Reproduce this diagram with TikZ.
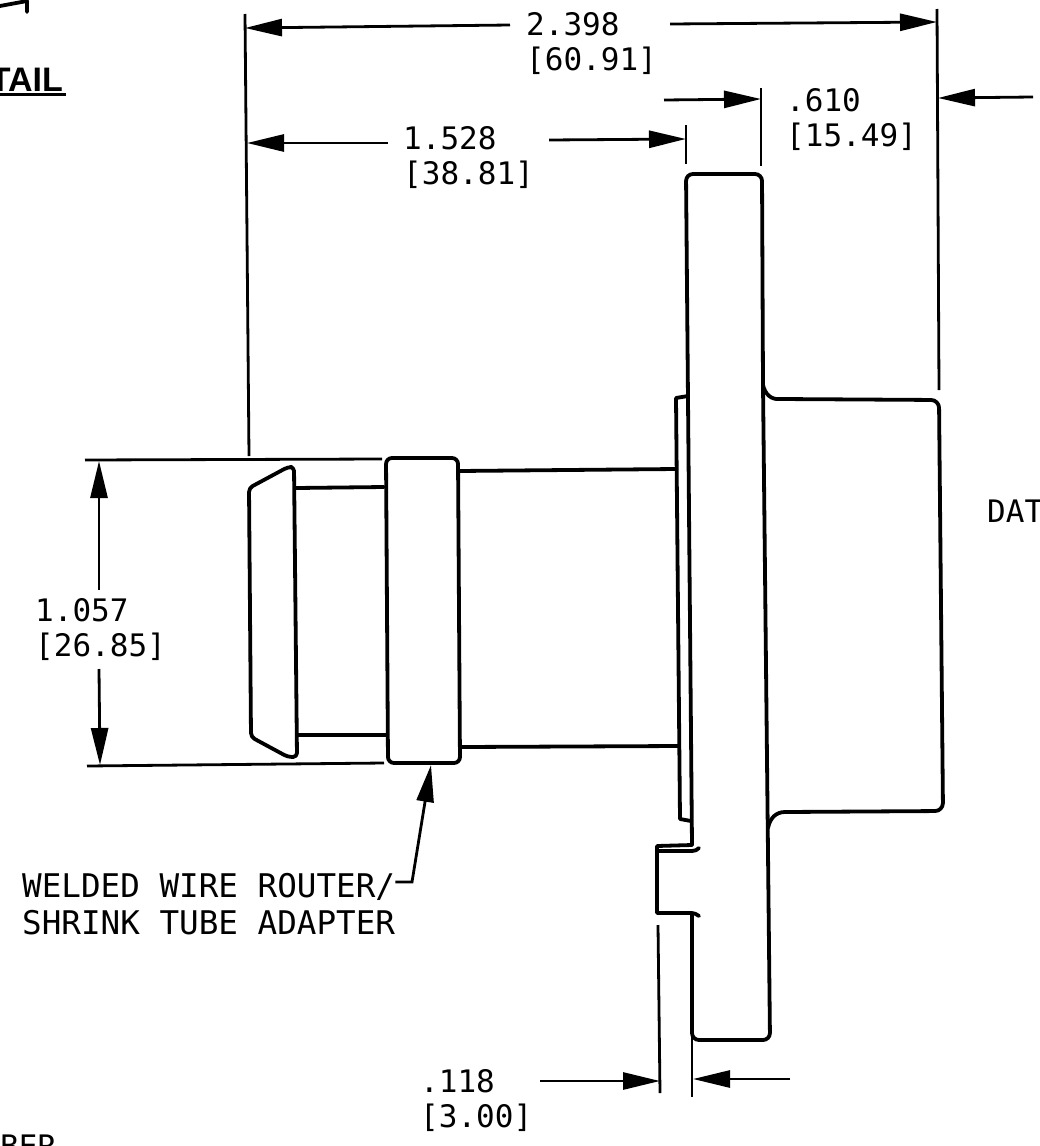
\documentclass[tikz,border=0pt]{standalone}
\usepackage{fontspec}
\usepackage{tikz}
\usetikzlibrary{arrows.meta}
\setmainfont{Liberation Sans}
\newfontfamily\cadfont{DejaVu Sans Mono}

\tikzset{
  part/.style={line width=3.8pt, line cap=round, line join=round},
  extline/.style={line width=2.8pt},
  dimline/.style={line width=2.8pt, ->},
  dimtext/.style={inner sep=0pt, anchor=north west, align=left, font=\cadfont\fontsize{31}{35.5}\selectfont},
  notetext/.style={inner sep=0pt, anchor=north west, align=left, font=\cadfont\fontsize{32.6}{37}\selectfont},
}

\begin{document}
\begin{tikzpicture}[x=1pt, y=-1pt, >={Triangle[length=37pt, width=17pt]}]
\useasboundingbox (0,0) rectangle (1039,1146);

% Cotas
\node[dimtext] (d2398) at (526,12) {2.398\\{[60.91]}};
\node[dimtext] (d1528) at (403,126) {1.528\\{[38.81]}};
\node[dimtext] (d610) at (786,88) {.610\\{[15.49]}};
\node[dimtext] (d1057) at (35,598) {1.057\\{[26.85]}};
\node[dimtext] (d118) at (420,1069) {.118\\{[3.00]}};
\node[notetext] (router) at (22,873) {WELDED WIRE ROUTER/\\SHRINK TUBE ADAPTER};

% Lineas de extension
\draw[extline] (245,14) -- (249,456);
\draw[extline] (937,9) -- (939,390);
\draw[extline] (686,125) -- (686,164);
\draw[extline] (761,88) -- (761,166);
\draw[extline] (85,460) -- (382,459);
\draw[extline] (87,766) -- (384,763);
\draw[extline] (658,925) -- (660,1093);
\draw[extline] (692,913) -- (692,1097);

% Extremos de las flechas
\coordinate (topL) at (245,28);
\coordinate (topR) at (937,22);
\coordinate (midL) at (247,143);
\coordinate (midR) at (686,139);
\coordinate (sideL) at (761,99);
\coordinate (sideR) at (938,98);
\coordinate (sideE) at (1033,97);
\coordinate (sideS) at (664,100);
\coordinate (hgtT) at (99,461);
\coordinate (hgtB) at (100,765);
\coordinate (lowL) at (660,1081);
\coordinate (lowR) at (693,1079);
\coordinate (lowE) at (790,1079);
\coordinate (tipA) at (431,765);
\coordinate (elbow) at (412,882);

% Flechas
\draw[dimline] ([xshift=-16pt,yshift=-13pt]d2398.north west) -- (topL);
\draw[dimline] ([xshift=13pt,yshift=-12pt]d2398.north east) -- (topR);
\draw[dimline] ([xshift=-15pt,yshift=-17pt]d1528.north west) -- (midL);
\draw[dimline] ([xshift=15pt,yshift=-14pt]d1528.north east) -- (midR);
\draw[dimline] (sideS) -- (sideL);
\draw[dimline] (sideE) -- (sideR);
\draw[dimline] ([xshift=64pt,yshift=8pt]d1057.north west) -- (hgtT);
\draw[dimline] ([xshift=64pt,yshift=-8pt]d1057.south west) -- (hgtB);
\draw[dimline] ([xshift=8pt,yshift=-12pt]d118.north east) -- (lowL);
\draw[dimline] (lowE) -- (lowR);
\draw[dimline] (router.north east |- elbow) -- (elbow) -- (tipA);

% Brida y cubo
\draw[part, rounded corners=7pt] (692,845) -- (688,400) -- (686,174) -- (762,174) -- (763,385) -- (770,1040) -- (692,1040) -- (692,913);
\draw[part] (763,385) .. controls (765,394) and (771,400) .. (780,399);
\draw[part, rounded corners=8pt] (780,399) -- (939,400) -- (943,811) -- (785,812);
\draw[part] (785,812) .. controls (776,812) and (770,818) .. (768,828);

% Placa y ranura
\draw[part] (688,396) -- (676,398) -- (680,819) -- (691,821);
\draw[part] (692,845) -- (657,846) -- (657,913) -- (690,913) .. controls (694,913) and (697,914) .. (699,916);
\draw[part] (658,851) -- (692,851) .. controls (695,851) and (697,850) .. (699,848);

% Tubo
\draw[part] (459,471) -- (676,469);
\draw[part] (461,747) -- (679,746);

% Adaptador
\draw[part, rounded corners=6pt] (386,458) -- (458,458) -- (460,763) -- (388,763) -- cycle;
\draw[part] (296,488) -- (384,487);
\draw[part] (298,735) -- (386,735);

% Cono
\draw[part, rounded corners=4pt] (249,488) -- (288,467) -- (294,467) -- (297,757) -- (288,757) -- (251,737) -- cycle;

% Restos cortados por el borde
\draw[part] (0,6) -- (27,1) -- (27,12);
\node[font=\bfseries\fontsize{34}{34}\selectfont, inner sep=0pt, anchor=base east] (detail) at (63,91) {TAIL};
\draw[line width=3pt] (0,94) -- (66,94);
\node[dimtext] (datum) at (987,500) {DAT};
\node[dimtext] (number) at (0,1135) {BER};
\end{tikzpicture}
\end{document}
